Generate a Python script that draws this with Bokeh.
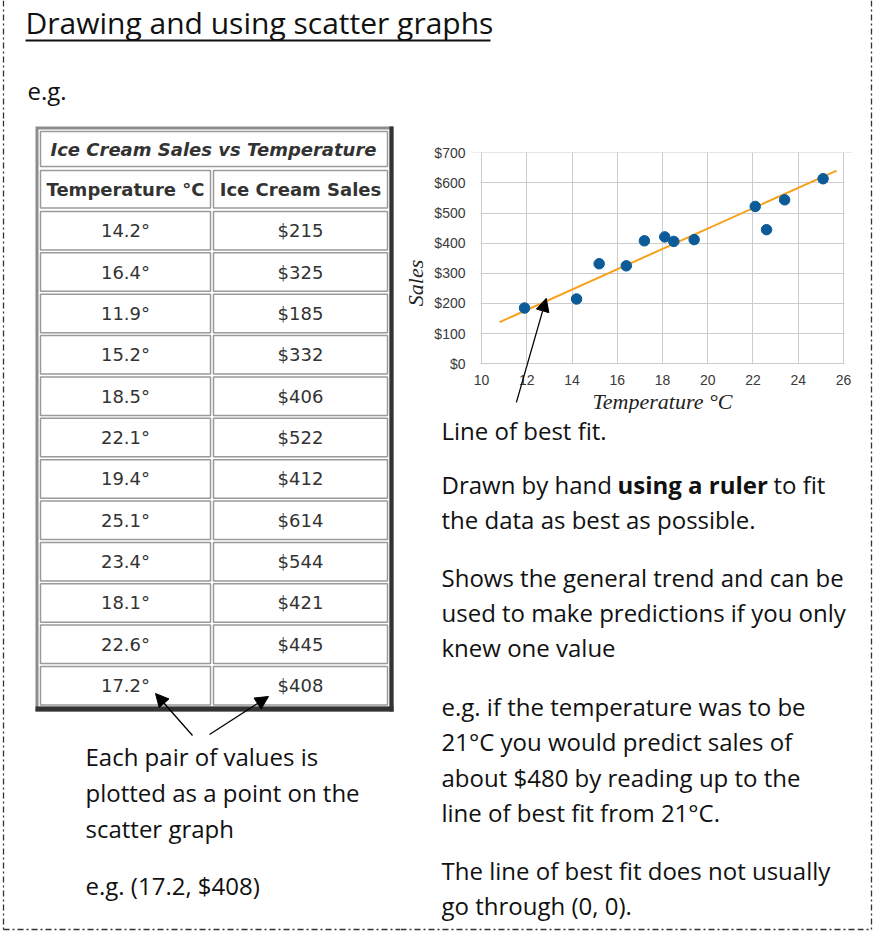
from bokeh.plotting import figure
from bokeh.layouts import column, row
from bokeh.models import (Range1d, FixedTicker, NumeralTickFormatter, Arrow,
                          NormalHead, ColumnDataSource)
from bokeh.embed import file_html
from bokeh.resources import INLINE
from bokeh.core.properties import value

# ---------------- data ----------------
temps = [14.2, 16.4, 11.9, 15.2, 18.5, 22.1, 19.4, 25.1, 23.4, 18.1, 22.6, 17.2]
sales = [215, 325, 185, 332, 406, 522, 412, 614, 544, 421, 445, 408]
fit_temp = [10.8, 25.7]
fit_sales = [138, 641]
x_ticks = [10, 12, 14, 16, 18, 20, 22, 24, 26]
y_ticks = [0, 100, 200, 300, 400, 500, 600, 700]
table_title = "Ice Cream Sales vs Temperature"
col_headers = ["Temperature °C", "Ice Cream Sales"]
page_title = "Drawing and using scatter graphs"
left_notes = ["Each pair of values is", "plotted as a point on the", "scatter graph"]
right_notes = [
    "Line of best fit.",
    None,
    "the data as best as possible.",
    "Shows the general trend and can be",
    "used to make predictions if you only",
    "knew one value",
    "e.g. if the temperature was to be",
    "21°C you would predict sales of",
    "about $480 by reading up to the",
    "line of best fit from 21°C.",
    "The line of best fit does not usually",
    "go through (0, 0).",
]

HAND = "Open Sans"
TABLE_FONT = "DejaVu Sans"
BORDER_DASH = "6 3 2 3"
NOTE_SIZE = 24


def canvas(x0, x1, y0, y1):
    p = figure(width=int(x1 - x0), height=int(y1 - y0),
               x_range=Range1d(x0, x1), y_range=Range1d(y1, y0),
               output_backend="svg", toolbar_location=None,
               x_axis_type=None, y_axis_type=None, min_border=0,
               frame_align=False)
    p.outline_line_color = None
    p.background_fill_color = "white"
    p.border_fill_color = "white"
    return p


def write(p, xs, ys, texts, size, font=HAND, style="normal", color="#111111",
          align="left", baseline="middle"):
    src = ColumnDataSource(dict(x=xs, y=ys, t=texts))
    p.text(x="x", y="y", text="t", source=src, text_font=value(font),
           text_font_size=f"{size}px", text_font_style=style, text_color=color,
           text_align=align, text_baseline=baseline)


def border(p, xs, ys):
    p.line(xs, ys, line_color="#333333", line_width=1.3, line_dash=BORDER_DASH)


# ---------------- top strip ----------------
top = canvas(0, 874, 0, 120)
border(top, [3, 3], [0, 120])
border(top, [871, 871], [0, 120])
write(top, [25], [22], [page_title], 30)
top.line([25, 490], [40, 40], line_color="#111111", line_width=2)
write(top, [27], [90], ["e.g."], NOTE_SIZE)

# ---------------- left panel (table) ----------------
left = canvas(0, 400, 120, 932)
border(left, [3, 3], [120, 929])
border(left, [3, 400], [929, 929])

left.quad(left=[35], right=[393], top=[126], bottom=[711], fill_color="#8c8c8c", line_color=None)
left.quad(left=[38], right=[389], top=[129], bottom=[706], fill_color="white", line_color=None)
left.quad(left=[389], right=[393], top=[126], bottom=[711], fill_color="#333333", line_color=None)
left.quad(left=[35], right=[393], top=[706], bottom=[711], fill_color="#333333", line_color=None)

cell_l = [40, 213]
cell_r = [210, 387]
row_tops = [211 + i * 41.36 for i in range(len(temps))]
ql, qr, qt, qb = [40], [387], [131], [166]
for c in range(2):
    ql.append(cell_l[c]); qr.append(cell_r[c]); qt.append(170); qb.append(207.5)
    for t0 in row_tops:
        ql.append(cell_l[c]); qr.append(cell_r[c]); qt.append(t0); qb.append(t0 + 38.5)
left.quad(left=ql, right=qr, top=qt, bottom=qb, fill_color="white",
          line_color="#9a9a9a", line_width=1.5)

write(left, [213], [148.5], [table_title], 18, font=TABLE_FONT, style="bold italic",
      color="#333333", align="center")
write(left, [125, 300], [189, 189], col_headers, 18, font=TABLE_FONT, style="bold",
      color="#333333", align="center")
centers = [t0 + 19.25 for t0 in row_tops]
write(left, [125] * len(temps), centers, [f"{t}°" for t in temps], 18,
      font=TABLE_FONT, color="#333333", align="center")
write(left, [300] * len(sales), centers, [f"${s}" for s in sales], 18,
      font=TABLE_FONT, color="#333333", align="center")

for xs, ys, xe, ye in [(192, 735, 155, 693), (209, 734, 268, 696)]:
    left.add_layout(Arrow(end=NormalHead(size=13, fill_color="black", line_color="black"),
                          x_start=xs, y_start=ys, x_end=xe, y_end=ye,
                          line_color="black", line_width=1.3))

write(left, [85, 85, 85], [756, 792, 828], left_notes, NOTE_SIZE)
write(left, [85], [885], [f"e.g. ({temps[-1]}, ${sales[-1]})"], NOTE_SIZE)

# ---------------- scatter chart ----------------
x_lo, x_hi = 9.6, 26.4
y_lo, y_hi = -165, 701
sp = figure(width=457, height=293, x_range=Range1d(x_lo, x_hi), y_range=Range1d(y_lo, y_hi),
            output_backend="svg", toolbar_location=None, frame_align=False,
            min_border_left=71, min_border_right=5, min_border_top=32,
            min_border_bottom=0)
sp.background_fill_color = "white"
sp.border_fill_color = "white"
sp.outline_line_color = None
sp.grid.grid_line_color = "#cccccc"
sp.grid.grid_line_width = 1
sp.xaxis.ticker = FixedTicker(ticks=x_ticks)
sp.yaxis.ticker = FixedTicker(ticks=y_ticks)
sp.yaxis.formatter = NumeralTickFormatter(format="$0")
sp.xaxis.fixed_location = 0
sp.xaxis.axis_label = "Temperature °C"
sp.yaxis.axis_label = "Sales"
for ax in sp.axis:
    ax.axis_line_color = None
    ax.major_tick_line_color = None
    ax.minor_tick_line_color = None
    ax.major_label_text_font = "Liberation Sans"
    ax.major_label_text_font_size = "14px"
    ax.major_label_text_color = "#3a3a3a"
    ax.axis_label_text_font = "Liberation Serif"
    ax.axis_label_text_font_style = "italic"
    ax.axis_label_text_font_size = "22px"
    ax.axis_label_text_color = "#222222"
    ax.axis_label_standoff = 3
sp.xaxis.major_label_standoff = 5
sp.xaxis.axis_label_standoff = 1
sp.yaxis.major_label_standoff = 1

# white masks so that the grid stops at the outer ticks
sp.quad(left=[x_lo, 26.04, x_lo], right=[9.96, x_hi, x_hi],
        bottom=[y_lo, y_lo, y_lo], top=[y_hi, y_hi, -2],
        fill_color="white", line_color=None)
sp.line(fit_temp, fit_sales, line_color="#f7a11a", line_width=2)
sp.scatter(temps, sales, size=10.5, marker="circle", fill_color="#0b5b98",
           line_color="#0b5b98")
sp.add_layout(Arrow(end=NormalHead(size=13, fill_color="black", line_color="black"),
                    x_start=11.54, y_start=-128, x_end=12.86, y_end=217,
                    line_color="black", line_width=1.3))

# ---------------- right text panel ----------------
tf = canvas(400, 857, 413, 932)
border(tf, [400, 857], [929, 929])
ys_right = [430, 484, 519, 577, 612, 647, 706, 741, 777, 812, 870, 905]
rx, ry, rt = [], [], []
for y, t in zip(ys_right, right_notes):
    if t is not None:
        rx.append(441); ry.append(y); rt.append(t)
write(tf, rx, ry, rt, NOTE_SIZE)
write(tf, [441], [484], ["Drawn by hand"], NOTE_SIZE)
write(tf, [617], [484], ["using a ruler"], NOTE_SIZE, style="bold")
write(tf, [773], [484], ["to fit"], NOTE_SIZE)

# ---------------- right strip (border) ----------------
strip = canvas(857, 874, 120, 932)
border(strip, [871, 871], [120, 929])
border(strip, [857, 871], [929, 929])

layout = column(top, row(left, column(sp, tf), strip))

open("out.html", "w").write(file_html(layout, INLINE))
